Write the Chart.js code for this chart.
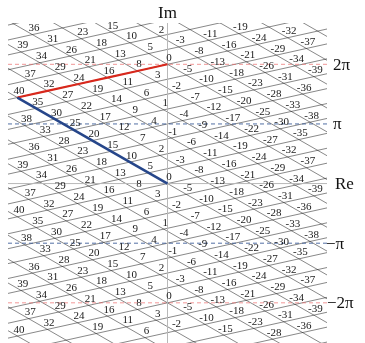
<!DOCTYPE html>
<html>
<head>
<meta charset="utf-8">
<style>
  html, body { margin: 0; padding: 0; background: #fff; overflow: hidden; }
  #wrap { width: 365px; height: 343px; position: relative; }
</style>
</head>
<body>
<div id="wrap"><canvas id="chart"></canvas></div>
<script src="https://cdn.jsdelivr.net/npm/chart.js@4.4.1/dist/chart.umd.min.js"></script>
<script>
// Numbers written at the lattice points
const labelNumbers = [40, 39, 38, 37, 36, 35, 34, 33, 32, 31, 30, 29, 28, 27, 26, 25, 24, 23, 22, 21,
  20, 19, 18, 17, 16, 15, 14, 13, 12, 11, 10, 9, 8, 7, 6, 5, 4, 3, 2, 1, 0,
  -1, -2, -3, -4, -5, -6, -7, -8, -9, -10, -11, -12, -13, -14, -15, -16, -17, -18, -19, -20,
  -21, -22, -23, -24, -25, -26, -27, -28, -29, -30, -31, -32, -33, -34, -35, -36, -37, -38, -39];

// one step of n in the plane: real part and angle (golden angle, clockwise)
const reStep = -0.2;
const imStep = -2.39996;

// band where numbers are written
const imTop = 8.05;
const imBottom = -8.2;

// the two families of lines (5- and 8-parastichies)
const shifts5 = [-14, -13, -12, -11, -10, -9, -8, -7, -6, -5, -4, -3, -2, -1, 0, 1, 2, 3, 4, 5, 6, 7, 8, 9, 10, 11, 12, 13, 14];
const shifts8 = [-20, -19, -18, -17, -16, -15, -14, -13, -12, -11, -10, -9, -8, -7, -6, -5, -4, -3, -2, -1, 0,
  1, 2, 3, 4, 5, 6, 7, 8, 9, 10, 11, 12, 13, 14, 15, 16, 17, 18, 19, 20];

// highlighted paths
const redPath = [40, 32, 24, 16, 8, 0];
const bluePath = [40, 35, 30, 25, 20, 15, 10, 5, 0];

// reference lines on the right
const refValues = [2 * Math.PI, Math.PI, 0, -Math.PI, -2 * Math.PI];
const refLabels = ['2π', 'π', 'Re', '−π', '−2π'];
const refOffsets = [6, 6, 8, -1, 0];

const P = 2 * Math.PI;

function wrap(t) {
  return ((t % P) + P) % P;
}
function nearest(t) {
  const w = wrap(t);
  return w > Math.PI ? w - P : w;
}
function copyNear(n, target) {
  const base = wrap(n * imStep);
  const k = Math.round((target - base) / P);
  return { x: n * reStep, y: base + k * P };
}
function pathPoints(list, endIm) {
  const pts = [];
  let target = endIm;
  for (let i = list.length - 1; i >= 0; i--) {
    const p = copyNear(list[i], target);
    pts.unshift(p);
    target = p.y;
  }
  return pts;
}

const d5 = { x: -5 * reStep, y: nearest(-5 * imStep) };
const d8 = { x: -8 * reStep, y: nearest(-8 * imStep) };

function lineThrough(p, d) {
  const T = 30;
  return [{ x: p.x - T * d.x, y: p.y - T * d.y }, { x: p.x + T * d.x, y: p.y + T * d.y }];
}

// label positions: every copy of n inside the band
const labelPoints = [];
labelNumbers.forEach(n => {
  const base = wrap(n * imStep);
  for (let k = -2; k <= 2; k++) {
    const y = base + k * P;
    if (y <= imTop && y >= imBottom) {
      labelPoints.push({ x: n * reStep, y: y, text: String(n) });
    }
  }
});

const datasets = [];

datasets.push({
  data: pathPoints(bluePath, 0),
  borderColor: '#26468a', borderWidth: 2.6
});
datasets.push({
  data: pathPoints(redPath, P),
  borderColor: '#d8281c', borderWidth: 2.1
});

// dashed lines at ±π and ±2π
[P, -P].forEach(v => {
  datasets.push({
    data: [{ x: -8.5, y: v }, { x: 8.5, y: v }],
    borderColor: 'rgba(235, 110, 110, 0.8)', borderWidth: 0.9, borderDash: [4, 3]
  });
});
[Math.PI, -Math.PI].forEach(v => {
  datasets.push({
    data: [{ x: -8.5, y: v }, { x: 8.5, y: v }],
    borderColor: '#3d5f9a', borderWidth: 0.9, borderDash: [4, 3]
  });
});

// axes
datasets.push({
  data: [{ x: -8.5, y: 0 }, { x: 8.5, y: 0 }],
  borderColor: '#b8b8b8', borderWidth: 1
});
datasets.push({
  data: [{ x: 0, y: -9 }, { x: 0, y: 9 }],
  borderColor: '#b8b8b8', borderWidth: 1
});

// lattice lines
shifts5.forEach(b => {
  datasets.push({
    data: lineThrough({ x: b * d8.x, y: b * d8.y }, d5),
    borderColor: 'rgba(20, 20, 20, 0.85)', borderWidth: 0.6
  });
});
shifts8.forEach(a => {
  datasets.push({
    data: lineThrough({ x: a * d5.x, y: a * d5.y }, d8),
    borderColor: 'rgba(20, 20, 20, 0.85)', borderWidth: 0.6
  });
});

datasets.forEach(ds => {
  ds.showLine = true;
  ds.pointRadius = 0;
  ds.pointHoverRadius = 0;
  ds.fill = false;
});

// numbers and axis texts
const textPlugin = {
  id: 'texts',
  afterDatasetsDraw(chart) {
    const ctx = chart.ctx;
    const xs = chart.scales.x;
    const ys = chart.scales.y;
    const area = chart.chartArea;
    ctx.save();
    ctx.fillStyle = '#1a1a1a';
    ctx.font = '11px "Liberation Serif", "DejaVu Serif", serif';
    ctx.textAlign = 'center';
    ctx.textBaseline = 'alphabetic';
    labelPoints.forEach(p => {
      ctx.fillText(p.text, xs.getPixelForValue(p.x) + 1.5, ys.getPixelForValue(p.y) - 3.5);
    });

    ctx.fillStyle = '#111';
    ctx.font = '17px "Liberation Serif", "DejaVu Serif", serif';
    ctx.textAlign = 'center';
    ctx.fillText('Im', xs.getPixelForValue(0), area.top - 5.5);

    ctx.textAlign = 'left';
    ctx.textBaseline = 'middle';
    refValues.forEach((v, i) => {
      ctx.fillText(refLabels[i], area.right + refOffsets[i], ys.getPixelForValue(v) + 1);
    });
    ctx.restore();
  }
};

new Chart(document.getElementById('chart'), {
  type: 'scatter',
  data: { datasets: datasets },
  options: {
    responsive: true,
    maintainAspectRatio: false,
    animation: false,
    events: [],
    layout: { padding: { left: 8, right: 38, top: 23, bottom: 0 } },
    plugins: {
      legend: { display: false },
      tooltip: { enabled: false }
    },
    scales: {
      x: { type: 'linear', min: -8.5, max: 8.5, display: false },
      y: { type: 'linear', min: -8.4, max: 8.46, display: false }
    }
  },
  plugins: [textPlugin]
});
</script>
</body>
</html>
